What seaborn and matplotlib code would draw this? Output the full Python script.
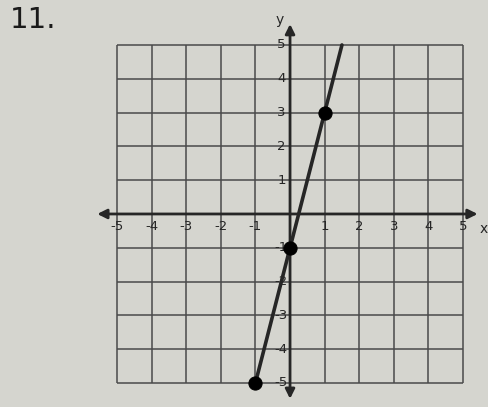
import numpy as np
import pandas as pd
import seaborn as sns
import matplotlib.pyplot as plt

# data
ticks = [-5, -4, -3, -2, -1, 1, 2, 3, 4, 5]
grid_vals = [-5, -4, -3, -2, -1, 0, 1, 2, 3, 4, 5]
line_x = [-1, 1.5]
line_y = [-5, 5]
pts_x = [-1, 0, 1]
pts_y = [-5, -1, 3]

paper = '#d5d5cf'
ink = '#262626'

sns.set_style('white')
fig = plt.figure(figsize=(4.88, 4.07), dpi=100, facecolor=paper)
ax = fig.add_axes([0, 0, 1, 1])
ax.set_facecolor(paper)
ax.set_xlim(-8.38, 5.72)
ax.set_ylim(-5.71, 6.33)
ax.axis('off')

# grid
ax.vlines(grid_vals, -5, 5, color='#4a4a4a', lw=1.1)
ax.hlines(grid_vals, -5, 5, color='#4a4a4a', lw=1.1)

# axes with arrows
ax.annotate('', xy=(5.5, 0), xytext=(-5.65, 0),
            arrowprops=dict(arrowstyle='<|-|>', color=ink, lw=2, mutation_scale=14))
ax.annotate('', xy=(0, 5.7), xytext=(0, -5.55),
            arrowprops=dict(arrowstyle='<|-|>', color=ink, lw=2, mutation_scale=14))

# tick labels
for t in ticks:
    ax.text(t, -0.38, str(t), ha='center', va='center', fontsize=9.5, color=ink)
    ax.text(-0.25, t, str(t), ha='center', va='center', fontsize=9.5, color=ink)
ax.text(5.6, -0.45, 'x', ha='center', va='center', fontsize=10, color=ink)
ax.text(-0.3, 5.75, 'y', ha='center', va='center', fontsize=10, color=ink)

# the line and its points
df_line = pd.DataFrame({'x': line_x, 'y': line_y})
df_pts = pd.DataFrame({'x': pts_x, 'y': pts_y})
sns.lineplot(data=df_line, x='x', y='y', ax=ax, color=ink, lw=2.6, sort=False)
sns.scatterplot(data=df_pts, x='x', y='y', ax=ax, color='black', s=90,
                edgecolor='black', zorder=5)
ax.axis('off')

fig.text(0.02, 0.95, '11.', fontsize=21, color='#1a1a1a', ha='left', va='center')

fig.savefig('out.png', dpi=100, facecolor=paper)
